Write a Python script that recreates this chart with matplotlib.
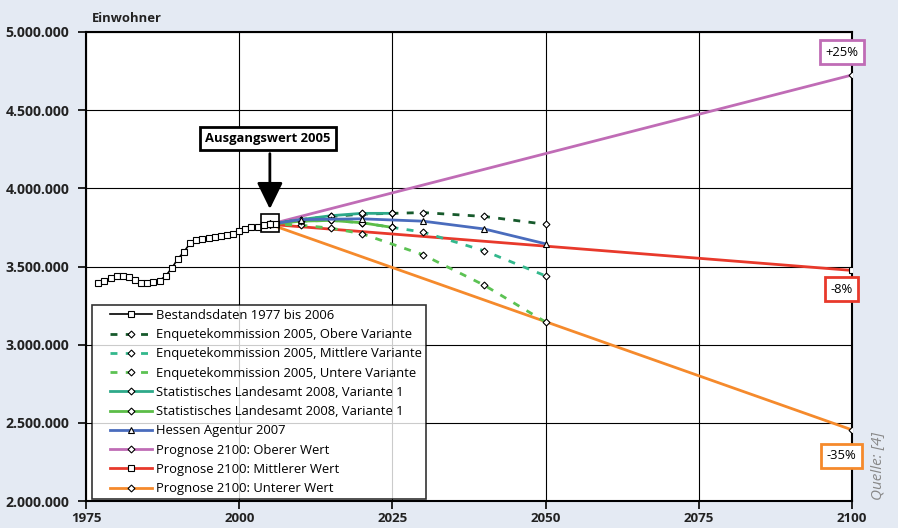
import matplotlib.pyplot as plt
from matplotlib.ticker import FuncFormatter
from matplotlib.lines import Line2D
from matplotlib.legend_handler import HandlerLine2D
import numpy as np

plt.rcParams['font.family'] = ['Open Sans', 'DejaVu Sans']

# Bestandsdaten 1977-2006
hist_years = list(range(1977, 2007))
hist_vals = [3.395, 3.41, 3.425, 3.44, 3.44, 3.43, 3.415, 3.395, 3.395, 3.40,
             3.41, 3.44, 3.49, 3.55, 3.595, 3.65, 3.67, 3.675, 3.685, 3.69,
             3.695, 3.70, 3.705, 3.73, 3.74, 3.75, 3.755, 3.765, 3.77, 3.775]

enq_o_years = [2005, 2010, 2015, 2020, 2025, 2030, 2040, 2050]
enq_o_vals = [3.77, 3.80, 3.82, 3.835, 3.84, 3.845, 3.82, 3.77]
enq_m_years = [2005, 2010, 2015, 2020, 2025, 2030, 2040, 2050]
enq_m_vals = [3.77, 3.79, 3.795, 3.78, 3.75, 3.72, 3.60, 3.44]
enq_u_years = [2005, 2010, 2015, 2020, 2030, 2040, 2050]
enq_u_vals = [3.77, 3.765, 3.745, 3.71, 3.575, 3.38, 3.145]

sl1_years = [2005, 2010, 2015, 2020, 2025]
sl1_vals = [3.77, 3.80, 3.825, 3.84, 3.84]
sl2_years = [2005, 2010, 2015, 2020, 2025]
sl2_vals = [3.77, 3.79, 3.795, 3.78, 3.75]

hessen_years = [2005, 2010, 2020, 2030, 2040, 2050]
hessen_vals = [3.77, 3.80, 3.805, 3.79, 3.74, 3.645]

prog_years = [2005, 2100]
prog_o_vals = [3.77, 4.725]
prog_m_vals = [3.77, 3.475]
prog_u_vals = [3.77, 2.455]

labels = ['Bestandsdaten 1977 bis 2006',
          'Enquetekommission 2005, Obere Variante',
          'Enquetekommission 2005, Mittlere Variante',
          'Enquetekommission 2005, Untere Variante',
          'Statistisches Landesamt 2008, Variante 1',
          'Statistisches Landesamt 2008, Variante 1',
          'Hessen Agentur 2007',
          'Prognose 2100: Oberer Wert',
          'Prognose 2100: Mittlerer Wert',
          'Prognose 2100: Unterer Wert']

def mio(v):
    return np.array(v) * 1e6

bg = '#e4eaf3'
fs = 9.4
fig = plt.figure(figsize=(8.98, 5.28), dpi=100, facecolor=bg)
ax = fig.add_axes([0.0958, 0.0511, 0.853, 0.8883])
ax.set_facecolor('white')

mk = dict(markerfacecolor='white', markeredgecolor='black', markeredgewidth=0.8)
dia = dict(marker='D', markersize=3.5, **mk)

ax.plot(hist_years, mio(hist_vals), color='black', lw=1.2, marker='s',
        markersize=5, label=labels[0], zorder=5, **mk)
ax.plot(enq_o_years, mio(enq_o_vals), color='#175a2c', lw=2, ls=(0, (2.5, 3)),
        label=labels[1], zorder=4, **dia)
ax.plot(enq_m_years, mio(enq_m_vals), color='#33b88c', lw=2, ls=(0, (2.5, 3)),
        label=labels[2], zorder=4, **dia)
ax.plot(enq_u_years, mio(enq_u_vals), color='#5cc253', lw=2, ls=(0, (2.5, 3)),
        label=labels[3], zorder=4, **dia)
ax.plot(sl1_years, mio(sl1_vals), color='#2ea98a', lw=2, label=labels[4],
        zorder=4, **dia)
ax.plot(sl2_years, mio(sl2_vals), color='#5cbd48', lw=2, label=labels[5],
        zorder=4, **dia)
ax.plot(hessen_years, mio(hessen_vals), color='#4a6cbd', lw=2, marker='^',
        markersize=5, label=labels[6], zorder=4, **mk)
ax.plot(prog_years, mio(prog_o_vals), color='#c06cb6', lw=2, label=labels[7],
        zorder=3, **dia)
ax.plot(prog_years, mio(prog_m_vals), color='#e8392b', lw=2, marker='s',
        markersize=5, label=labels[8], zorder=3, **mk)
ax.plot(prog_years, mio(prog_u_vals), color='#f58a2c', lw=2, label=labels[9],
        zorder=3, **dia)

# Ausgangswert 2005
ax.plot([2005], [3.777e6], marker='s', markersize=13, markerfacecolor='none',
        markeredgecolor='black', markeredgewidth=1.2, zorder=6)
ax.annotate('', xy=(2005, 3.85e6), xytext=(2005, 4.24e6),
            arrowprops=dict(arrowstyle='-|>,head_length=0.45,head_width=0.22',
                            mutation_scale=36, lw=2, color='black'), zorder=6)
ax.text(2004.7, 4.316e6, 'Ausgangswert 2005', ha='center', va='center',
        fontsize=fs, fontweight='bold', zorder=7,
        bbox=dict(boxstyle='square,pad=0.38', fc='white', ec='black', lw=2))

for txt, yv, col in [('+25%', 4.87e6, '#c06cb6'), ('-8%', 3.356e6, '#e8392b'),
                     ('-35%', 2.288e6, '#f58a2c')]:
    ax.text(2098.3, yv, txt, ha='center', va='center', fontsize=fs, zorder=7,
            bbox=dict(boxstyle='square,pad=0.42', fc='white', ec=col, lw=2))

ax.set_xlim(1975, 2100)
ax.set_ylim(2e6, 5e6)
ax.set_xticks(range(1975, 2101, 25))
ax.set_yticks(np.arange(2e6, 5.01e6, 5e5))
ax.yaxis.set_major_formatter(FuncFormatter(lambda v, p: f'{int(v):,}'.replace(',', '.')))
ax.grid(True, color='black', lw=0.8)
ax.set_axisbelow(True)
for s in ax.spines.values():
    s.set_linewidth(1.5)
ax.tick_params(axis='both', direction='out', length=6, width=1.2,
               labelsize=10.2, colors='black')
ax.tick_params(axis='x', pad=2, labelsize=9.6)
ax.tick_params(axis='y', pad=6)
for t in ax.get_xticklabels() + ax.get_yticklabels():
    t.set_fontweight('bold')
    t.set_color('#222222')

fig.text(0.102, 0.952, 'Einwohner', fontsize=fs, fontweight='bold',
         color='#222222', ha='left', va='bottom')
fig.text(0.977, 0.053, 'Quelle: [4]', rotation=90, fontsize=11,
         style='italic', color='#888888', ha='center', va='bottom')

leg = ax.legend(loc='lower left', bbox_to_anchor=(0.0078, 0.004), fontsize=fs,
                frameon=True, fancybox=False, edgecolor='black',
                handlelength=4.3, labelspacing=0.48, borderpad=0.3,
                handletextpad=0.3, borderaxespad=0,
                handler_map={Line2D: HandlerLine2D(xpad=1.1)})
leg.get_frame().set_linewidth(1.2)
leg.set_zorder(10)

fig.savefig('out.png', dpi=100, facecolor=bg)
